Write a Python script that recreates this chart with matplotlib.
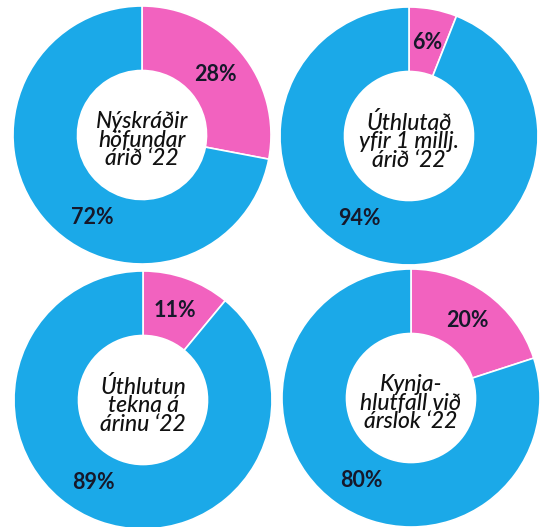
import matplotlib
matplotlib.use("Agg")
import matplotlib.pyplot as plt
import numpy as np

titles = ["Nýskráðir\nhöfundar\nárið ‘22",
          "Úthlutað\nyfir 1 millj.\nárið ‘22",
          "Úthlutun\ntekna á\nárinu ‘22",
          "Kynja-\nhlutfall við\nárslok ‘22"]
pink_vals = [28, 6, 11, 20]
blue_vals = [72, 94, 89, 80]

PINK = "#F262BF"
BLUE = "#1BA9E8"
TXT = "#16182a"

W, H = 540, 527
fig = plt.figure(figsize=(W / 100, H / 100), dpi=100)
fig.patch.set_facecolor("white")

centers = [(142, 135), (409, 136), (143, 400), (411, 398)]
R = 129

for (cx, cy), title, pv, bv in zip(centers, titles, pink_vals, blue_vals):
    ax = fig.add_axes([(cx - R) / W, (H - cy - R) / H, 2 * R / W, 2 * R / H])
    ax.pie([pv, bv], colors=[PINK, BLUE], startangle=90, counterclock=False,
           radius=1.0, wedgeprops=dict(width=0.5, edgecolor="white", linewidth=1.2))
    ax.set_xlim(-1, 1)
    ax.set_ylim(-1, 1)
    ax.set_aspect("equal")
    ax.axis("off")
    # pink label at middle of slice
    mid = np.deg2rad(90 - pv / 100 * 360 / 2)
    rl = 0.74
    ax.text(rl * np.cos(mid), rl * np.sin(mid), f"{pv}%", ha="center", va="center",
            fontsize=15.5, fontweight="bold", family="Lato", color=TXT)
    # blue label at fixed lower-left position
    ang = np.deg2rad(90 - 211)
    ax.text(0.75 * np.cos(ang), 0.75 * np.sin(ang), f"{bv}%", ha="center", va="center",
            fontsize=15.5, fontweight="bold", family="Lato", color=TXT)
    ax.text(0, -0.04, title, ha="center", va="center", fontsize=16.5, style="italic",
            fontweight="medium", family="Lato", color="#111111", linespacing=0.85)

fig.savefig("out.png", dpi=100, facecolor="white")
